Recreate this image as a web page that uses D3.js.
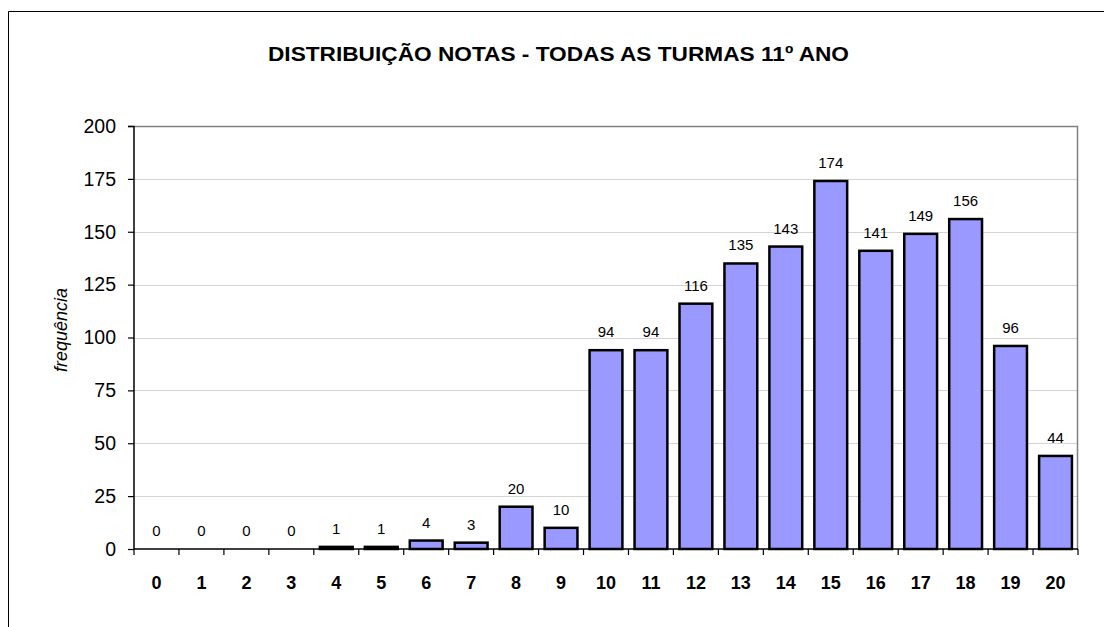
<!DOCTYPE html>
<html lang="pt">
  <head>
    <meta charset="utf-8">
    <title>Distribuição notas</title>
    <script src="https://d3js.org/d3.v7.min.js"></script>
    <style>
      body { margin: 0; background: white; }
      text { font-family: "Liberation Sans", Arial, sans-serif; }
    </style>
  </head>
  <body>
    <script>
      // data
      var notas = ["0","1","2","3","4","5","6","7","8","9","10","11","12","13","14","15","16","17","18","19","20"];
      var frequencia = [0,0,0,0,1,1,4,3,20,10,94,94,116,135,143,174,141,149,156,96,44];
      var yTicks = [0,25,50,75,100,125,150,175,200];

      var w = 1104, h = 627;
      var margin = {top: 126, right: 26, bottom: 78, left: 134};
      var innerWidth = w - margin.left - margin.right;
      var innerHeight = h - margin.top - margin.bottom;

      var svg = d3.select("body").append("svg")
          .attr("width", w)
          .attr("height", h);

      // outer chart frame (runs off the right and bottom edges)
      svg.append("path")
          .attr("d", `M8.5,${h}V11.5H${w}`)
          .attr("fill", "none")
          .attr("stroke", "black")
          .attr("stroke-width", 1);

      svg.append("text")
          .attr("x", 558.5).attr("y", 61)
          .attr("text-anchor", "middle")
          .attr("font-size", 20.5)
          .attr("font-weight", "bold")
          .attr("textLength", 581)
          .attr("lengthAdjust", "spacingAndGlyphs")
          .text("DISTRIBUIÇÃO NOTAS - TODAS AS TURMAS 11º ANO");

      var xScale = d3.scaleBand()
          .domain(notas)
          .range([0, innerWidth])
          .paddingInner(0.27)
          .paddingOuter(0.135);

      var yScale = d3.scaleLinear()
          .domain([0, 200])
          .range([innerHeight, 0]);

      var g = svg.append("g")
          .attr("transform", `translate(${margin.left}, ${margin.top})`);

      // grid lines
      g.selectAll(".grid")
          .data(yTicks.filter(d => d > 0 && d < 200))
          .enter().append("line")
          .attr("x1", 0).attr("x2", innerWidth)
          .attr("y1", d => Math.round(yScale(d)) + 0.5).attr("y2", d => Math.round(yScale(d)) + 0.5)
          .attr("stroke", "#d4d4d4")
          .attr("stroke-width", 1);

      // top and right frame of plot area
      g.append("path")
          .attr("d", `M0,0.5H${innerWidth - 0.5}V${innerHeight}`)
          .attr("fill", "none")
          .attr("stroke", "#808080")
          .attr("stroke-width", 1.5);

      // bars
      g.selectAll(".bar")
          .data(frequencia)
          .enter().append("rect")
          .attr("x", (d, i) => xScale(notas[i]))
          .attr("y", d => yScale(d))
          .attr("width", xScale.bandwidth())
          .attr("height", d => innerHeight - yScale(d))
          .attr("fill", "#9999ff")
          .attr("stroke", "black")
          .attr("stroke-width", 2.5);

      // value labels
      g.selectAll(".val")
          .data(frequencia)
          .enter().append("text")
          .attr("x", (d, i) => xScale(notas[i]) + xScale.bandwidth() / 2)
          .attr("y", d => yScale(d) - 13)
          .attr("text-anchor", "middle")
          .attr("font-size", 15)
          .text(d => d);

      // axes
      var yAxis = d3.axisLeft(yScale)
          .tickValues(yTicks)
          .tickSize(6)
          .tickPadding(12);

      var xAxis = d3.axisBottom(xScale)
          .tickSize(0);

      var yg = g.append("g").call(yAxis);
      yg.select(".domain").attr("stroke", "black").attr("stroke-width", 1.5)
          .attr("d", `M-6,0.5H0V${innerHeight}`);
      yg.selectAll(".tick line").attr("stroke", "black").attr("stroke-width", 1.2);
      yg.selectAll(".tick text")
          .attr("font-size", 19.5)
          .attr("font-family", "Liberation Sans, Arial, sans-serif")
          .attr("fill", "black");

      var xg = g.append("g")
          .attr("transform", `translate(0, ${innerHeight})`)
          .call(xAxis);
      xg.select(".domain").attr("stroke", "black").attr("stroke-width", 1.5)
          .attr("d", `M0,0H${innerWidth}`);
      xg.selectAll(".tick text")
          .attr("y", 40)
          .attr("dy", 0)
          .attr("font-size", 18)
          .attr("font-weight", "bold")
          .attr("font-family", "Liberation Sans, Arial, sans-serif")
          .attr("fill", "black");

      // category boundary ticks
      var step = xScale.step();
      xg.selectAll(".sep")
          .data(d3.range(notas.length + 1))
          .enter().append("line")
          .attr("x1", i => i * step).attr("x2", i => i * step)
          .attr("y1", 0).attr("y2", 6)
          .attr("stroke", "black")
          .attr("stroke-width", 1.2);

      // y label
      svg.append("text")
          .attr("transform", "translate(67, 330) rotate(-90)")
          .attr("text-anchor", "middle")
          .attr("font-size", 18)
          .attr("font-style", "italic")
          .text("frequência");
    </script>
  </body>
</html>
